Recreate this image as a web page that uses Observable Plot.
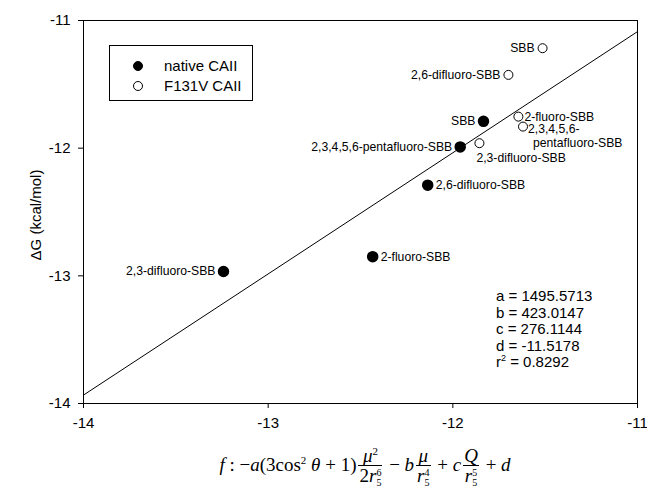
<!DOCTYPE html>
<html>
<head>
<meta charset="utf-8">
<script src="https://cdn.jsdelivr.net/npm/d3@7"></script>
<script src="https://cdn.jsdelivr.net/npm/@observablehq/plot@0.6"></script>
<style>
  html, body { margin: 0; padding: 0; background: #fff; overflow: hidden; }
  #wrap { position: relative; width: 647px; height: 487px; font-family: "Liberation Sans", Arial, sans-serif; color: #000; }
  #ylabel { position: absolute; left: 35px; top: 215px; transform: translate(-50%, -50%) rotate(-90deg); white-space: nowrap; font-size: 15px; }
  #legend { position: absolute; left: 109px; top: 45px; width: 144px; height: 56px; border: 1px solid #000; background: #fff; font-size: 15px; box-sizing: border-box; }
  #legend .row { position: absolute; left: 0; height: 18px; line-height: 18px; white-space: nowrap; }
  #legend .sym { position: absolute; left: 23px; top: 4px; width: 10px; height: 10px; border-radius: 50%; box-sizing: border-box; border: 1px solid #000; }
  #legend .txt { position: absolute; left: 54px; top: 0; }
  #stats { position: absolute; left: 496px; top: 288px; font-size: 15px; line-height: 16.6px; white-space: nowrap; }
  #stats sup { font-size: 9px; line-height: 0; vertical-align: 6px; }
  #formula { position: absolute; left: 88px; width: 554px; top: 446px; text-align: center; font-family: "Liberation Serif", "Times New Roman", serif; font-size: 19px; white-space: nowrap; line-height: 1; }
  .frac { display: inline-block; vertical-align: middle; text-align: center; margin: 0 2px; }
  .frac > span { display: block; line-height: 1.0; padding: 0 1px; }
  .frac .num { border-bottom: 1px solid #000; }
  .ss { display: inline-block; vertical-align: middle; font-size: 10px; line-height: 1; text-align: left; }
  .ss > span { display: block; }
  sup.s { font-size: 11px; vertical-align: 7px; line-height: 0; }
</style>
</head>
<body>
<div id="wrap">
  <div id="chart"></div>
  <div id="ylabel"></div>
  <div id="legend"></div>
  <div id="stats"></div>
  <div id="formula"></div>
</div>
<script>
// ---- data ----
const nativeNames = ["SBB", "2,3,4,5,6-pentafluoro-SBB", "2,6-difluoro-SBB", "2-fluoro-SBB", "2,3-difluoro-SBB"];
const nativeF  = [-11.834, -11.96, -12.136, -12.434, -13.242];
const nativeDG = [-11.79, -11.99, -12.29, -12.85, -12.966];

const mutantNames = ["SBB", "2,6-difluoro-SBB", "2-fluoro-SBB", "2,3,4,5,6-pentafluoro-SBB", "2,3-difluoro-SBB"];
const mutantF  = [-11.514, -11.699, -11.645, -11.62, -11.856];
const mutantDG = [-11.217, -11.426, -11.753, -11.831, -11.961];

const fitF  = [-14, -11];
const fitDG = [-13.934, -11.087];

const xTicks = [-14, -13, -12, -11];
const yTicks = [-14, -13, -12, -11];

const seriesNames = ["native CAII", "F131V CAII"];
const fitParams = ["a = 1495.5713", "b = 423.0147", "c = 276.1144", "d = -11.5178"];
const fitR2 = "0.8292";
const yTitle = "ΔG (kcal/mol)";

// ---- build tables ----
const native = nativeNames.map((name, i) => ({name, f: nativeF[i], dg: nativeDG[i]}));
const mutant = mutantNames.map((name, i) => ({name, f: mutantF[i], dg: mutantDG[i]}));
const fit = fitF.map((f, i) => ({f, dg: fitDG[i]}));

// label placement (layout decisions)
const nativeLeft = new Set(["SBB", "2,3,4,5,6-pentafluoro-SBB", "2,3-difluoro-SBB"]);
const mutantLeft = new Set(["SBB", "2,6-difluoro-SBB"]);
const mutantRight = new Set(["2-fluoro-SBB"]);
const mutantSplit = new Set(["2,3,4,5,6-pentafluoro-SBB"]);
const mutantBelow = new Set(["2,3-difluoro-SBB"]);

const lab = {fontSize: 12.2, fill: "black"};

const chart = Plot.plot({
  width: 647,
  height: 445,
  marginLeft: 83,
  marginRight: 10,
  marginTop: 20,
  marginBottom: 42,
  style: {fontFamily: "'Liberation Sans', Arial, sans-serif", fontSize: "15px", background: "white", color: "black"},
  x: {domain: [-14, -11], ticks: xTicks, tickFormat: d => String(d), tickSize: 5, tickPadding: 9, label: null},
  y: {domain: [-14, -11], ticks: yTicks, tickFormat: d => String(d), tickSize: 5, tickPadding: 8, label: null},
  marks: [
    Plot.frame({stroke: "black", strokeWidth: 1}),
    Plot.line(fit, {x: "f", y: "dg", stroke: "black", strokeWidth: 1}),
    Plot.dot(native, {x: "f", y: "dg", r: 5, fill: "black", stroke: "black"}),
    Plot.dot(mutant, {x: "f", y: "dg", r: 4.5, fill: "white", stroke: "black", strokeWidth: 1}),
    Plot.text(native, {filter: d => nativeLeft.has(d.name), x: "f", y: "dg", text: "name", textAnchor: "end", dx: -8, ...lab}),
    Plot.text(native, {filter: d => !nativeLeft.has(d.name), x: "f", y: "dg", text: "name", textAnchor: "start", dx: 8, ...lab}),
    Plot.text(mutant, {filter: d => mutantLeft.has(d.name), x: "f", y: "dg", text: "name", textAnchor: "end", dx: -8, ...lab}),
    Plot.text(mutant, {filter: d => mutantRight.has(d.name), x: "f", y: "dg", text: "name", textAnchor: "start", dx: 6, ...lab}),
    Plot.text(mutant, {filter: d => mutantSplit.has(d.name), x: "f", y: "dg", text: d => d.name.split("-")[0] + "-", textAnchor: "start", dx: 5, dy: 3, ...lab}),
    Plot.text(mutant, {filter: d => mutantSplit.has(d.name), x: "f", y: "dg", text: d => d.name.split("-").slice(1).join("-"), textAnchor: "start", dx: 10, dy: 17, ...lab}),
    Plot.text(mutant, {filter: d => mutantBelow.has(d.name), x: "f", y: "dg", text: "name", textAnchor: "start", dx: -3, dy: 15, ...lab})
  ]
});
document.getElementById("chart").appendChild(chart);

// y-axis title
document.getElementById("ylabel").textContent = yTitle;

// legend
const legend = document.getElementById("legend");
seriesNames.forEach((name, i) => {
  const row = document.createElement("div");
  row.className = "row";
  row.style.top = (11 + i * 19.5) + "px";
  row.style.width = "100%";
  const sym = document.createElement("span");
  sym.className = "sym";
  sym.style.background = i === 0 ? "#000" : "#fff";
  const txt = document.createElement("span");
  txt.className = "txt";
  txt.textContent = name;
  row.appendChild(sym);
  row.appendChild(txt);
  legend.appendChild(row);
});

// fit parameters
const stats = document.getElementById("stats");
stats.innerHTML = fitParams.map(s => `<div>${s}</div>`).join("") + `<div>r<sup>2</sup> = ${fitR2}</div>`;

// formula caption
document.getElementById("formula").innerHTML =
  `<i>f</i> : −<i>a</i>(3cos<sup class="s">2</sup> <i>θ</i> + 1)` +
  `<span class="frac"><span class="num"><i>μ</i><sup class="s">2</sup></span><span class="den">2<i>r</i><span class="ss"><span>6</span><span>5</span></span></span></span>` +
  ` − <i>b</i><span class="frac"><span class="num"><i>μ</i></span><span class="den"><i>r</i><span class="ss"><span>4</span><span>5</span></span></span></span>` +
  ` + <i>c</i><span class="frac"><span class="num"><i>Q</i></span><span class="den"><i>r</i><span class="ss"><span>5</span><span>5</span></span></span></span>` +
  ` + <i>d</i>`;
</script>
</body>
</html>
